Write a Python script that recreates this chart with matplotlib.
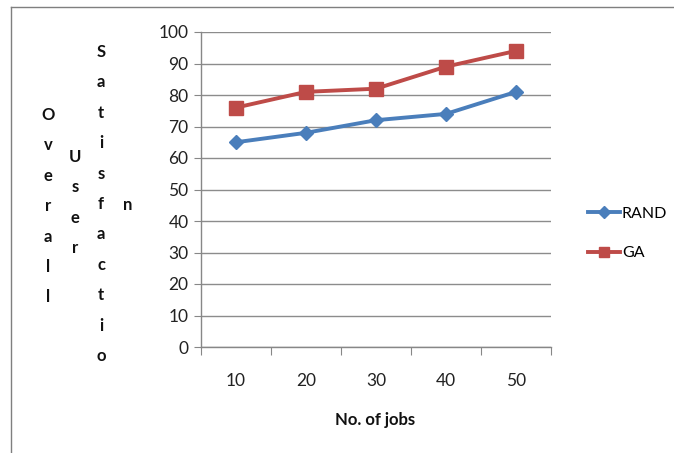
import matplotlib
matplotlib.use("Agg")
import matplotlib.pyplot as plt
from matplotlib.lines import Line2D

plt.rcParams['font.family'] = ['Lato', 'DejaVu Sans']

jobs = ['10', '20', '30', '40', '50']
rand_vals = [65, 68, 72, 74, 81]
ga_vals = [76, 81, 82, 89, 94]
ylabel_cols = ['Overall', 'User', 'Satisfactio', 'n']

W, H = 674, 453
fig = plt.figure(figsize=(W / 100, H / 100), dpi=100)
ax = fig.add_axes([201 / W, 1 - 347 / H, 350 / W, 315 / H])

x = list(range(len(jobs)))
ax.plot(x, rand_vals, '-', color='#4A7EBB', lw=2.8, marker='D', ms=7.5,
        label='RAND', zorder=3)
ax.plot(x, ga_vals, '-', color='#BE4B48', lw=2.8, marker='s', ms=9.5,
        label='GA', zorder=3)

ax.set_xlim(-0.5, len(jobs) - 0.5)
ax.set_ylim(0, 100)
ax.set_yticks(range(0, 101, 10))
ax.set_xticks([i - 0.5 for i in range(len(jobs) + 1)], minor=False)
ax.set_xticklabels([])
ax.set_xticks(x, minor=True)
ax.set_xticklabels(jobs, minor=True)
ax.tick_params(axis='x', which='major', length=6, color='#878787', direction='out')
ax.tick_params(axis='x', which='minor', length=0, pad=19, labelsize=12.5, labelcolor='#222222')
ax.tick_params(axis='y', length=5, color='#878787', labelsize=12.5, labelcolor='#222222', pad=4)
ax.grid(axis='y', color='#8C8C8C', lw=1)
ax.set_axisbelow(True)
for s in ['top', 'right']:
    ax.spines[s].set_visible(False)
for s in ['left', 'bottom']:
    ax.spines[s].set_color('#878787')
    ax.spines[s].set_linewidth(1)

fig.text(375 / W, 1 - 420 / H, 'No. of jobs', ha='center', va='center',
         fontsize=12, fontweight='bold', color='#111111')

# vertical stacked letters for the y label
cols = [(48, 115), (75, 157), (101, 52), (128, 205)]
for word, (cx, cy) in zip(ylabel_cols, cols):
    for k, ch in enumerate(word):
        fig.text(cx / W, 1 - (cy + k * 30.4) / H, ch, ha='center', va='center',
                 fontsize=12, fontweight='bold', color='#111111')

leg = ax.legend(loc='upper left', bbox_to_anchor=(574 / W, 1 - 192 / H),
                bbox_transform=fig.transFigure, frameon=False, fontsize=11.5,
                handlelength=2.0, handletextpad=0.1, labelspacing=1.6,
                markerscale=0.8)

# outer frame
fig.add_artist(Line2D([11 / W, 11 / W], [0, 1 - 7 / H], transform=fig.transFigure,
                      color='#7F7F7F', lw=1))
fig.add_artist(Line2D([11 / W, 1], [1 - 7 / H, 1 - 7 / H], transform=fig.transFigure,
                      color='#7F7F7F', lw=1))

fig.savefig('out.png', dpi=100)
